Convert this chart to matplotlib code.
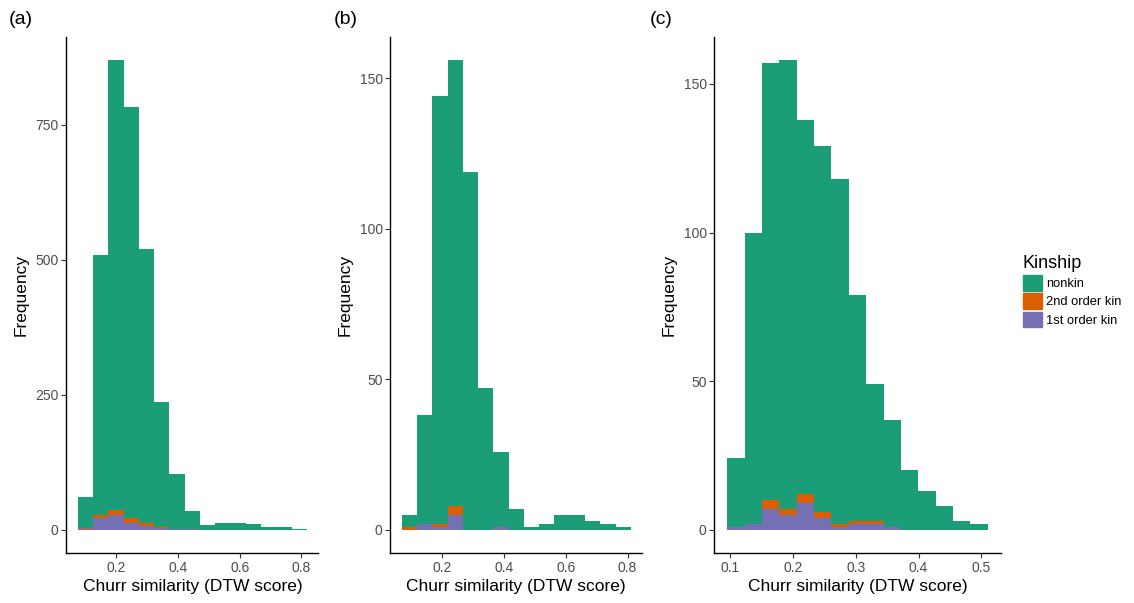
import numpy as np
import matplotlib
matplotlib.use("Agg")
import matplotlib.pyplot as plt
from matplotlib.patches import Patch

plt.rcParams['font.family'] = ['Liberation Sans', 'DejaVu Sans']

# colours (Dark2)
col_nonkin = "#1B9E77"
col_second = "#D95F02"
col_first = "#7570B3"

# bin ranges of the three histograms (15 bins each)
bins_a = (0.0757, 0.8175)
bins_b = (0.068, 0.8108)
bins_c = (0.0957, 0.510)

# counts per bin
total_a = [61, 509, 870, 784, 520, 236, 104, 34, 9, 12, 12, 10, 6, 6, 2]
second_a = [2, 6, 9, 10, 5, 2, 0, 0, 0, 0, 0, 0, 0, 0, 0]
first_a = [1, 21, 27, 12, 7, 4, 2, 1, 0, 0, 0, 0, 0, 0, 0]

total_b = [5, 38, 144, 156, 119, 47, 26, 7, 1, 2, 5, 5, 3, 2, 1]
second_b = [1, 0, 1, 3, 0, 0, 0, 0, 0, 0, 0, 0, 0, 0, 0]
first_b = [0, 2, 1, 5, 0, 0, 1, 0, 0, 0, 0, 0, 0, 0, 0]

total_c = [24, 100, 157, 158, 138, 129, 118, 79, 49, 37, 20, 13, 8, 3, 2]
second_c = [0, 0, 3, 2, 3, 2, 1, 1, 1, 0, 0, 0, 0, 0, 0]
first_c = [1, 2, 7, 5, 9, 4, 1, 2, 2, 1, 0, 0, 0, 0, 0]

xticks_a = [0.2, 0.4, 0.6, 0.8]
xticks_c = [0.1, 0.2, 0.3, 0.4, 0.5]
yticks_a = [0, 250, 500, 750]
yticks_bc = [0, 50, 100, 150]

fig = plt.figure(figsize=(11.34, 6.03), dpi=100)

panels = [
    ("(a)", 0.008, [0.0585, 0.0824, 0.2222, 0.8567], bins_a, total_a, second_a, first_a, xticks_a, yticks_a),
    ("(b)", 0.294, [0.3442, 0.0824, 0.2222, 0.8567], bins_b, total_b, second_b, first_b, xticks_a, yticks_bc),
    ("(c)", 0.573, [0.6299, 0.0824, 0.2526, 0.8567], bins_c, total_c, second_c, first_c, xticks_c, yticks_bc),
]

for tag, tag_x, pos, rng, total, second, first, xt, yt in panels:
    ax = fig.add_axes(pos)
    edges = np.linspace(rng[0], rng[1], len(total) + 1)
    width = edges[1] - edges[0]
    total = np.array(total)
    second = np.array(second)
    first = np.array(first)
    nonkin = total - second - first

    ax.bar(edges[:-1], first, width=width, align='edge', color=col_first, linewidth=0)
    ax.bar(edges[:-1], second, width=width, bottom=first, align='edge', color=col_second, linewidth=0)
    ax.bar(edges[:-1], nonkin, width=width, bottom=first + second, align='edge', color=col_nonkin, linewidth=0)

    span = rng[1] - rng[0]
    ax.set_xlim(rng[0] - 0.05 * span, rng[1] + 0.05 * span)
    top = total.max()
    ax.set_ylim(-0.05 * top, 1.05 * top)

    ax.set_xticks(xt)
    ax.set_xticklabels([f"{v:g}" for v in xt])
    ax.set_yticks(yt)

    for s in ["top", "right"]:
        ax.spines[s].set_visible(False)
    for s in ["left", "bottom"]:
        ax.spines[s].set_color("black")
        ax.spines[s].set_linewidth(1.0)
    ax.tick_params(axis='both', length=3.5, width=0.8, color="#333333",
                   labelcolor="#4D4D4D", labelsize=10, pad=2)

    ax.set_xlabel("Churr similarity (DTW score)", fontsize=12.5, color="black", labelpad=3)
    ax.set_ylabel("Frequency", fontsize=12.5, color="black", labelpad=5)

    fig.text(tag_x, 0.967, tag, fontsize=14, ha='left', va='center')

handles = [Patch(color=col_nonkin), Patch(color=col_second), Patch(color=col_first)]
leg = fig.legend(handles, ["nonkin", "2nd order kin", "1st order kin"], title="Kinship",
                 loc='upper left', bbox_to_anchor=(0.8975, 0.585), frameon=False,
                 fontsize=9.3, title_fontsize=13, handlelength=1.5, handleheight=1.5,
                 labelspacing=0.2, handletextpad=0.3, borderaxespad=0)
leg._legend_box.align = "left"

fig.savefig("out.png", dpi=100)
